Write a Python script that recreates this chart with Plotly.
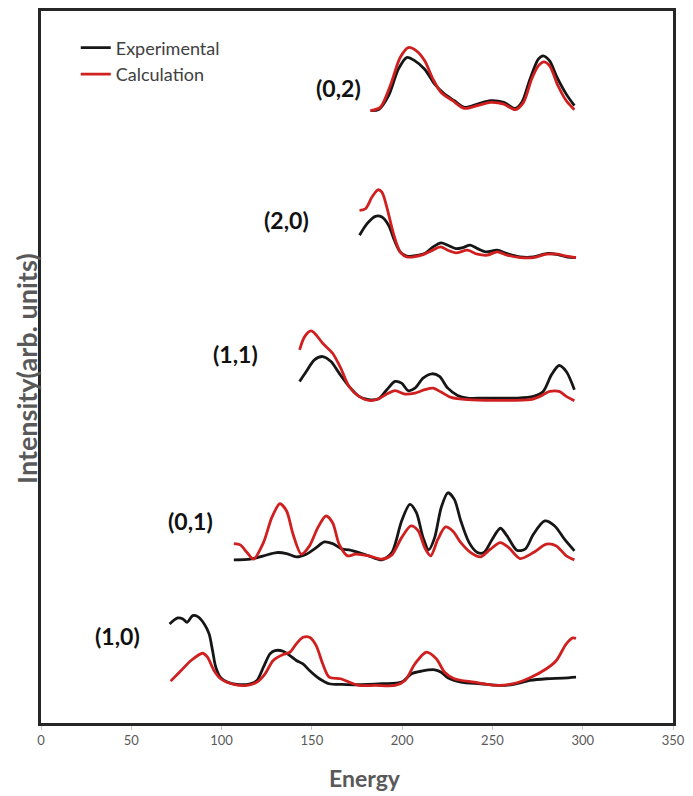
import plotly.graph_objects as go

# ---- spectra: energy (x) and offset intensity (arb. units) for each mode ----
# (1,0)
e10_exp = [71.2, 75.8, 78.6, 80.9, 84.0, 86.8, 90.4, 93.1, 95.0, 96.8, 99.5, 103.2, 108.6, 115.9,
           119.6, 123.2, 126.8, 129.6, 134.1, 137.8, 141.4, 145.1, 148.7, 154.2, 159.6, 166.9,
           174.2, 188.8, 199.7, 205.2, 210.7, 218.0, 221.6, 225.3, 232.5, 243.5, 254.4, 261.7,
           270.8, 279.9, 289.1, 296.3]
i10_exp = [9.67, 10.27, 10.17, 9.83, 10.5, 10.4, 9.67, 8.67, 7.0, 5.33, 4.27, 3.83, 3.6, 3.67,
           4.0, 5.33, 6.67, 7.0, 6.93, 6.5, 6.0, 5.67, 5.0, 4.17, 3.67, 3.6, 3.57, 3.67, 3.83,
           4.67, 4.93, 5.07, 4.83, 4.27, 3.83, 3.67, 3.5, 3.6, 4.0, 4.17, 4.23, 4.33]
e10_calc = [71.8, 77.6, 83.1, 89.5, 92.2, 95.8, 99.5, 106.8, 114.1, 119.6, 124.1, 128.6, 134.1,
            137.8, 141.4, 145.1, 148.7, 152.4, 156.0, 159.6, 166.0, 170.6, 176.1, 185.2, 196.1,
            201.6, 207.1, 213.4, 218.9, 223.5, 228.9, 239.9, 252.6, 261.7, 270.8, 279.9, 285.4,
            290.9, 294.5, 296.3]
i10_calc = [3.93, 5.0, 6.0, 6.73, 6.33, 5.0, 4.17, 3.6, 3.5, 3.83, 4.67, 6.0, 6.6, 6.83, 7.67,
            8.33, 8.33, 7.5, 5.67, 4.33, 4.17, 3.83, 3.5, 3.5, 3.5, 4.0, 5.67, 6.83, 6.17, 4.83,
            4.17, 3.83, 3.5, 3.67, 4.27, 5.17, 6.0, 7.67, 8.27, 8.23]

# (0,1)
e01_exp = [106.8, 115.9, 123.2, 130.5, 136.0, 141.4, 146.9, 152.4, 156.9, 161.5, 166.9, 170.6,
           176.1, 181.5, 188.8, 194.3, 199.7, 204.3, 207.9, 211.6, 214.7, 218.0, 221.6, 225.3,
           228.9, 232.5, 237.1, 241.7, 245.3, 249.9, 254.4, 258.1, 263.5, 268.1, 272.7, 279.0,
           284.5, 289.9, 295.4]
i01_exp = [16.1, 16.17, 16.5, 16.83, 16.73, 16.4, 16.67, 17.33, 17.9, 17.73, 17.17, 17.1, 16.83,
           16.5, 16.1, 16.83, 20.0, 21.67, 20.83, 18.33, 17.1, 18.33, 21.33, 22.83, 22.17, 20.0,
           17.83, 16.83, 16.83, 18.17, 19.27, 18.5, 17.07, 17.17, 18.67, 20.0, 19.5, 18.17, 17.0]
e01_calc = [106.8, 110.4, 114.1, 117.7, 123.2, 127.8, 132.3, 136.0, 139.6, 144.2, 148.7, 153.3,
            157.8, 161.5, 165.1, 169.7, 174.2, 181.5, 188.8, 194.3, 199.7, 204.9, 208.9, 212.5,
            215.8, 219.8, 224.0, 228.0, 232.5, 238.0, 243.5, 248.9, 254.4, 259.0, 265.3, 272.7,
            279.9, 285.4, 290.9, 295.4]
i01_calc = [17.73, 17.6, 16.83, 16.17, 17.83, 20.33, 21.73, 21.0, 18.67, 16.67, 17.5, 19.33,
            20.5, 19.83, 17.67, 16.5, 16.67, 16.5, 16.17, 16.6, 18.33, 19.5, 19.0, 17.33, 16.5,
            18.17, 19.4, 19.0, 17.83, 16.83, 16.4, 17.17, 17.83, 17.33, 16.23, 16.83, 17.67, 17.5,
            16.5, 16.1]

# (1,1)
e11_exp = [143.2, 146.9, 151.4, 156.0, 160.6, 165.1, 170.6, 176.1, 181.5, 187.0, 191.5, 196.1,
           199.7, 203.4, 207.1, 211.6, 216.5, 220.7, 225.3, 230.7, 236.2, 245.3, 263.5, 272.7,
           278.1, 282.7, 286.9, 290.9, 295.4]
i11_exp = [34.0, 35.0, 36.17, 36.5, 36.0, 34.83, 33.5, 32.5, 32.17, 32.27, 33.17, 34.0, 33.83,
           33.07, 33.33, 34.33, 34.77, 34.5, 33.33, 32.6, 32.33, 32.33, 32.33, 32.5, 33.0, 34.67,
           35.6, 35.0, 33.17]
e11_calc = [143.2, 146.0, 149.6, 152.4, 156.0, 161.5, 166.0, 170.6, 176.1, 182.5, 187.0, 191.5,
            196.1, 201.6, 207.1, 212.5, 217.1, 221.6, 227.1, 236.2, 250.8, 270.8, 276.3, 281.7,
            286.9, 290.9, 295.4]
i11_calc = [37.17, 38.5, 39.07, 38.67, 37.83, 36.83, 35.33, 33.5, 32.5, 32.07, 32.27, 32.73,
            33.07, 32.73, 32.83, 33.17, 33.33, 32.93, 32.4, 32.17, 32.1, 32.17, 32.5, 33.0, 33.0,
            32.5, 32.07]

# (2,0)
e20_exp = [176.4, 180.6, 185.2, 188.8, 192.5, 195.7, 198.9, 202.5, 208.9, 212.5, 217.1, 221.6,
           225.3, 229.8, 233.5, 237.7, 241.7, 246.2, 252.6, 258.1, 265.3, 272.7, 279.9, 286.3,
           290.9, 296.3]
i20_exp = [48.67, 49.83, 50.57, 50.5, 49.67, 48.17, 47.0, 46.57, 46.67, 46.83, 47.5, 47.9, 47.67,
           47.33, 47.43, 47.67, 47.33, 47.0, 47.17, 46.83, 46.5, 46.5, 46.83, 46.73, 46.5, 46.43]
e20_calc = [176.4, 179.7, 183.3, 186.6, 188.8, 191.5, 195.2, 198.9, 202.5, 210.7, 216.1, 221.3,
            225.3, 229.8, 236.2, 241.7, 247.1, 252.6, 258.1, 265.3, 272.7, 279.9, 286.3, 290.9,
            296.3]
i20_calc = [51.17, 51.33, 52.5, 53.23, 53.0, 51.5, 48.83, 47.0, 46.5, 46.67, 47.1, 47.5, 47.17,
            46.9, 47.17, 46.77, 46.67, 47.0, 46.67, 46.43, 46.43, 46.77, 46.77, 46.57, 46.43]

# (0,2)
e02_exp = [182.5, 187.0, 192.5, 197.9, 202.5, 207.1, 212.5, 218.0, 223.5, 228.9, 234.4, 241.7,
           248.9, 256.3, 262.6, 266.3, 270.8, 275.4, 278.1, 281.7, 285.4, 290.9, 295.4]
i02_exp = [61.17, 61.27, 62.67, 65.33, 66.5, 66.17, 65.33, 63.83, 62.83, 62.17, 61.5, 61.83,
           62.17, 62.0, 61.4, 62.0, 64.33, 66.33, 66.67, 66.17, 64.67, 62.83, 61.67]
e02_calc = [182.5, 187.9, 193.4, 198.9, 203.4, 207.9, 212.5, 217.1, 221.6, 228.0, 234.4, 241.7,
            248.9, 256.3, 262.6, 267.2, 271.7, 275.4, 278.5, 281.7, 286.3, 290.9, 295.4]
i02_calc = [61.17, 61.5, 63.67, 66.5, 67.5, 67.17, 66.17, 64.33, 63.0, 62.17, 61.4, 61.67, 62.0,
            61.83, 61.27, 62.0, 64.33, 65.67, 66.07, 65.67, 63.67, 62.17, 61.27]

# mode labels and where they sit (energy, intensity)
mode_names = ["(1,0)", "(0,1)", "(1,1)", "(2,0)", "(0,2)"]
mode_label_e = [42.4, 83.0, 107.8, 135.7, 164.8]
mode_label_i = [8.5, 20.0, 36.8, 50.2, 63.4]

x_ticks = [0, 50, 100, 150, 200, 250, 300, 350]

spectra = [
    (e10_exp, i10_exp, e10_calc, i10_calc),
    (e01_exp, i01_exp, e01_calc, i01_calc),
    (e11_exp, i11_exp, e11_calc, i11_calc),
    (e20_exp, i20_exp, e20_calc, i20_calc),
    (e02_exp, i02_exp, e02_calc, i02_calc),
]

EXP_COLOR = "#161616"
CALC_COLOR = "#d01f1f"
FONT = "Lato"

fig = go.Figure()
for k, (ex, iy, ec, ic) in enumerate(spectra):
    fig.add_trace(go.Scatter(
        x=ex, y=iy, mode="lines", name="Experimental", legendgroup="exp",
        showlegend=(k == 0),
        line=dict(color=EXP_COLOR, width=2.8, shape="spline", smoothing=0.8)))
for k, (ex, iy, ec, ic) in enumerate(spectra):
    fig.add_trace(go.Scatter(
        x=ec, y=ic, mode="lines", name="Calculation", legendgroup="calc",
        showlegend=(k == 0),
        line=dict(color=CALC_COLOR, width=2.8, shape="spline", smoothing=0.8)))

annotations = []
for name, xe, yi in zip(mode_names, mode_label_e, mode_label_i):
    annotations.append(dict(
        x=xe, y=yi, xref="x", yref="y", text=name, showarrow=False,
        xanchor="center", yanchor="middle",
        font=dict(family=FONT, size=23, color="#111111", weight="bold")))

annotations.append(dict(
    x=0.512, y=-0.077, xref="paper", yref="paper", text="Energy", showarrow=False,
    xanchor="center", yanchor="middle",
    font=dict(family=FONT, size=23, color="#595959", weight="bold")))
annotations.append(dict(
    x=-0.022, y=0.4975, xref="paper", yref="paper", text="Intensity(arb. units)",
    showarrow=False, textangle=-90, xanchor="center", yanchor="middle",
    font=dict(family=FONT, size=27, color="#595959", weight="bold")))

fig.update_layout(
    width=693, height=796,
    margin=dict(l=41, r=15, t=8, b=73),
    paper_bgcolor="white", plot_bgcolor="white",
    annotations=annotations,
    showlegend=True,
    legend=dict(
        x=0.055, y=0.974, xanchor="left", yanchor="top",
        bgcolor="rgba(0,0,0,0)", borderwidth=0, tracegroupgap=0,
        font=dict(family=FONT, size=18, color="#404040"),
    ),
    xaxis=dict(
        range=[0, 350], tickvals=x_ticks, showgrid=False, zeroline=False,
        showline=True, mirror=True, linecolor="#262626", linewidth=2.5,
        ticks="outside", ticklen=4, tickcolor="#c8c8c8", tickwidth=1,
        tickfont=dict(family=FONT, size=13, color="#595959"),
    ),
    yaxis=dict(
        range=[-0.27, 71.17], showgrid=False, zeroline=False,
        showline=True, mirror=True, linecolor="#262626", linewidth=2.5,
        showticklabels=False, ticks="",
    ),
)

fig.write_html("out.html")
